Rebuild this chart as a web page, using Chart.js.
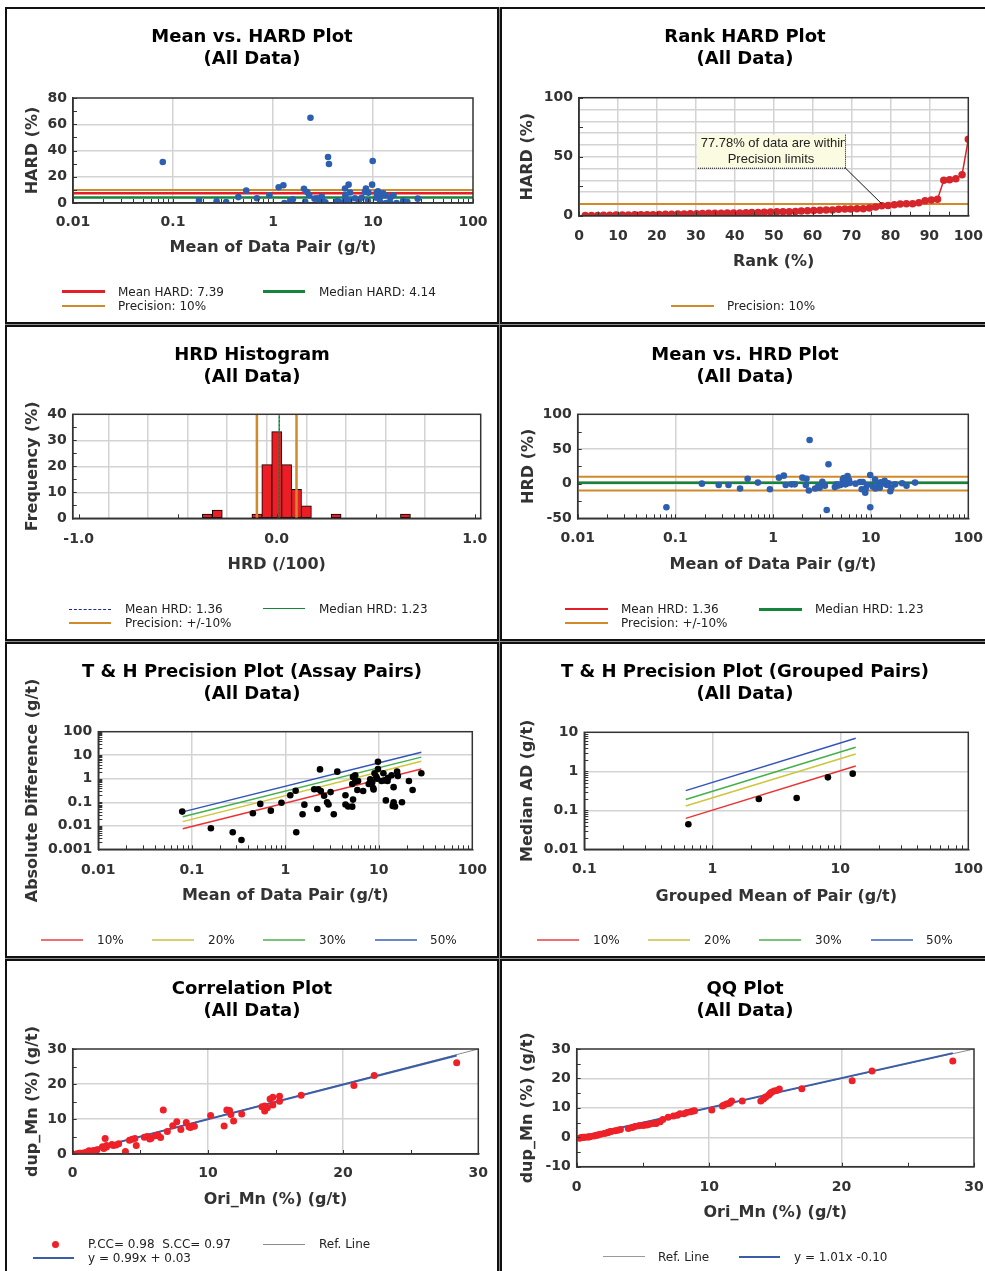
<!DOCTYPE html>
<html>
<head>
<meta charset="utf-8">
<script src="https://cdn.jsdelivr.net/npm/chart.js@4.4.1/dist/chart.umd.min.js"></script>
<style>
  body { margin: 0; background: #fff; width: 985px; height: 1271px; overflow: hidden; position: relative; font-family: 'DejaVu Sans', sans-serif; }
  #grid { position: absolute; left: 5px; top: 7px; width: 990px; height: 1270px; background: #8c8c8c; }
  .cell { position: absolute; background: #fff; border: 2px solid #111; box-sizing: border-box; overflow: hidden; }
  .cell canvas { position: absolute; left: 0; top: 0; }
  .lg { position: absolute; height: 0; }
  .lt { position: absolute; font-size: 12px; line-height: 14px; color: #222; white-space: pre; }
  .dot { position: absolute; border-radius: 50%; }
</style>
</head>
<body>
<div id="grid"></div>
<script>
// Mean vs. HARD
const hardMeanX = [0.079,0.182,0.273,0.34,0.45,0.54,0.69,0.92,1.14,1.27, 1.3,1.49,1.58,2.04,2.1,2.2,2.3,2.37,2.6,2.77,
  2.88,3.07,3.16,3.34,3.55,3.63,4.3,4.4,4.5,4.7, 5.25,5.3,5.3,5.4,5.7,5.8,5.9,6.6,7.2,7.7,
  8.3,8.5,8.9,9.0,9.8,9.93,10.8,10.9,11.2,11.7, 11.8,12.5,12.6,13.3,13.5,14.5,14.8,15.0,16.0,17.2, 20.0,22.0,28.0];
const hardY = [31.2,2,1.3,0.8,4.5,9.4,3.6,5.9,12,13.5, 0,2,2.8,10.9,1,8.4,6,65,3.3,3.6,
  2.5,5,1.3,0.5,35,29.7,1,1.5,0.5,0.5, 11,6,3,0.5,14,2,8,3.6,1.8,4,
  8.4,11,1.5,7.9,14,32,4,7.9,9,4.8, 1,6,7.4,6,0,0.5,0.5,4.3,5.9,0, 1.5,1,3.3];
const meanHard = 7.39, medianHard = 4.14, precisionHard = 10;
const meanAxis = [0.01, 100];
const hardYTicks = [0, 20, 40, 60, 80];

// Rank HARD
const rankPct = [1.6,3.2,4.8,6.3,7.9,9.5,11.1,12.7,14.3,15.9, 17.5,19.0,20.6,22.2,23.8,25.4,27.0,28.6,30.2,31.7,
  33.3,34.9,36.5,38.1,39.7,41.3,42.9,44.4,46.0,47.6, 49.2,50.8,52.4,54.0,55.6,57.1,58.7,60.3,61.9,63.5,
  65.1,66.7,68.3,69.8,71.4,73.0,74.6,76.2,77.8,79.4, 81.0,82.5,84.1,85.7,87.3,88.9,90.5,92.1,93.7,95.2, 96.8,98.4,100.0];
const rankHard = [0.1,0.2,0.2,0.3,0.4,0.5,0.6,0.6,0.7,0.8, 0.9,0.9,1.0,1.2,1.3,1.4,1.5,1.6,1.7,1.8,
  2.0,2.0,2.1,2.2,2.2,2.3,2.5,2.7,2.8,3.0, 3.2,3.3,3.3,3.4,3.5,4.0,4.1,4.5,4.7,4.8,
  4.9,5.5,5.6,5.7,5.8,5.9,6.5,7.4,8.5,8.7, 9.3,9.9,10.1,10.2,11.0,12.7,13.3,14.0,30.0,30.5, 31.4,34.7,64.7];
const rankXTicks = [0, 10, 20, 30, 40, 50, 60, 70, 80, 90, 100];
const rankYTicks = [0, 50, 100];
const withinRank = 77.78;
const calloutText = ['77.78% of data are within', 'Precision limits'];

// HRD histogram
const hrdBins = [-0.35, -0.30, -0.10, -0.05, 0.0, 0.05, 0.10, 0.15, 0.30, 0.65];
const hrdFreq = [1.59, 3.17, 1.59, 20.63, 33.33, 20.63, 11.11, 4.76, 1.59, 1.59];
const histMean = 0.0136, histMedian = 0.0123, histPrec = 0.1;
const histXTicks = [-1, 0, 1];
const histYTicks = [0, 10, 20, 30, 40];

// Mean vs. HRD
const hrdMeanX = [0.081,0.187,0.278,0.35,0.46,0.55,0.70,0.93,1.15,1.29, 1.35,1.55,1.67,2.0,2.17,2.2,2.33,2.37,2.7,2.9,
  3.0,3.2,3.4,3.55,3.7,4.3,4.5,4.6,4.9,5.2, 5.2,5.3,5.5,5.6,5.8,6.0,6.1,7.0,7.8,8.1,
  8.3,8.8,8.9,9.2,9.9,9.9,10.5,11.1,11.2,12.0, 12.4,12.7,13.2,13.9,14.3,14.8,15.2,15.9,16.3,17.8, 21,23.3,28.5];
const hrdY = [-34,0,-2,-2,-7,7,1.5,-8,8.6,11.5, -2,-1,-1,8.6,-2,7,-10,63,-7,-4,
  -6,2.5,-3,-38,28,-5,-1,-3,-2,6, 3,8,-1,-0.5,11,5,1,0,2.4,-8,
  2.4,-13,-7,-2,12.5,-34,-4,6,-7,-3, -6,2,1,4,-1,-2,0.5,-11,-6,-1, 0.5,-3,1.5];
const meanHrd = 1.36, medianHrd = 1.23, precHrd = 10;
const hrdYTicks = [-50, 0, 50, 100];

// T & H assay pairs
const thMeanX = [0.079,0.16,0.274,0.34,0.45,0.54,0.70,0.91,1.13,1.29, 1.31,1.53,1.6,2.04,2.2,2.25,2.35,2.4,2.6,2.8,
  2.9,3.05,3.3,3.6,4.4,4.4,4.7,5.2,5.2,5.3, 5.3,5.6,5.6,5.9,6.0,6.8,7.8,8.1,8.5,8.7,
  8.8,9.0,9.4,9.6,9.8,9.8,10.7,11.2,11.5,11.9, 12.4,12.6,13.7,14.1,14.4,14.4,14.9,15.7,16.0,17.7, 21,23,28.5];
const thAbsDiff = [0.04,0.0078,0.0053,0.0025,0.034,0.085,0.044,0.095,0.2,0.31, 0.0053,0.031,0.079,0.36,0.052,0.36,2.5,0.3,0.19,0.1,
  0.08,0.27,0.031,2.0,0.2,0.08,0.066,0.065,0.6,0.13, 1.2,1.4,0.75,0.33,0.8,0.3,0.6,0.95,0.7,0.4,
  0.35,1.7,1.2,1.0,5.3,2.6,0.8,1.7,0.85,0.12, 0.8,1.1,1.4,0.07,0.1,0.44,0.066,2.0,1.3,0.1, 0.8,0.33,1.7];
const thLineX = [0.08, 28.5];
const th10 = [0.0075, 2.6], th20 = [0.015, 5.5], th30 = [0.024, 8.3], th50 = [0.039, 13.5];

// T & H grouped pairs
const grpMeanX = [0.65, 2.31, 4.56, 8.0, 12.5];
const grpMedAD = [0.044, 0.195, 0.207, 0.70, 0.87];
const grpLineX = [0.62, 13.2];
const grp10 = [0.062, 1.37], grp20 = [0.129, 2.78], grp30 = [0.19, 4.12], grp50 = [0.32, 7.0];

// Correlation
const corrOri = [0.2,0.3,0.4,0.5,0.6,0.8,1.0,1.2,1.3,1.5, 1.6,1.8,2.2,2.3,2.4,2.5,2.5,2.9,3.0,3.2,
  3.4,3.9,4.2,4.4,4.6,4.7,5.3,5.5,5.7,5.8, 6.1,6.3,6.5,6.7,7.0,7.4,7.7,8.0,8.4,8.6,
  8.7,8.9,9.0,10.2,11.2,11.4,11.6,11.7,11.9,12.5, 14.0,14.2,14.2,14.4,14.6,14.8,14.8,15.3,15.3,16.9, 20.8,22.3,28.4];
const corrDup = [-0.1,0.0,0.1,0.2,0.2,0.3,0.5,0.9,0.8,0.9, 0.9,1.2,2.1,1.6,4.4,2.4,2.0,2.7,2.4,2.6,
  2.9,0.7,3.9,4.2,4.4,2.4,4.8,5.0,4.3,4.5, 5.2,5.4,4.7,12.6,6.4,8.1,9.2,7.0,9.0,7.8,
  7.6,8.0,7.9,11.0,8.0,12.6,12.4,11.3,9.4,11.4, 13.5,13.7,12.3,13.2,15.7,16.2,14.0,16.5,15.1,16.8, 19.6,22.4,26.1];
const corrFitX = [0, 28.4], corrFitY = [0.03, 28.15];
const refX = [0, 30], refY = [0, 30];
const corrTicks = [0, 10, 20, 30];

// QQ
const qqOri = [0.2,0.3,0.4,0.5,0.6,0.8,0.9,1.0,1.3,1.5, 1.6,1.8,2.1,2.3,2.4,2.5,2.6,2.9,3.1,3.3,
  3.9,4.2,4.4,4.7,5.0,5.1,5.3,5.5,5.8,6.0, 6.3,6.5,6.9,7.3,7.6,7.8,8.1,8.3,8.6,8.8,
  8.9,10.2,11.0,11.1,11.3,11.5,11.6,11.7,12.5,13.9, 14.1,14.2,14.3,14.5,14.6,14.7,14.9,15.1,15.3,17.0, 20.8,22.3,28.4];
const qqDup = [-0.3,-0.2,-0.1,0.0,0.0,0.1,0.1,0.2,0.4,0.7, 0.8,1.0,1.3,1.5,1.7,1.9,2.0,2.2,2.4,2.6,
  3.0,3.3,3.7,3.9,4.0,4.2,4.2,4.4,4.7,4.7, 5.3,6.0,6.8,7.2,7.5,8.0,8.0,8.4,8.7,8.9,
  9.0,9.3,10.6,10.9,11.3,11.5,11.8,12.3,12.3,12.3, 13.0,13.5,13.8,14.4,14.9,15.3,15.7,15.9,16.4,16.5, 19.2,22.5,25.9];
const qqFitX = [0, 28.4], qqFitY = [-0.1, 28.6];
const qqYTicks = [-10, 0, 10, 20, 30];

// ---------- styling ----------
const FAM = "'DejaVu Sans', sans-serif";
const TITLE_FONT = { family: FAM, size: 18, weight: 'bold', lineHeight: '22px' };
const TICK_FONT = { family: FAM, size: 14, weight: 'bold' };
const AXIS_FONT = { family: FAM, size: 16, weight: 'bold' };
const GRID = '#d3d3d3', AXIS = '#333', TEXT = '#333';
const BLUE = '#2d5fb0', RED = '#e51f28', GREEN = '#15853c', ORANGE = '#d08a2a', NAVY = '#1c2a8c';
const RANK_RED = '#d6262c', HIST_RED = '#ee1c24', CORR_RED = '#ee2028', FIT_BLUE = '#3a5da8', REF_GRAY = '#8a8a8a';
const TH = ['#ea3434', '#cdc63a', '#44b048', '#3354b8'];
const TH_LG = ['#f07070', '#d8d070', '#78c478', '#6a88c8'];

const colX = [5, 500], colW = [494, 490];
const rowY = [7, 325, 642, 959], rowH = [317, 316, 316, 316];

function near(v, step) { const r = v / step; return Math.abs(r - Math.round(r)) < 1e-6; }
function isDecade(v) { const e = Math.log10(v); return Math.abs(e - Math.round(e)) < 1e-6; }
function decadeLabel(v) { const e = Math.round(Math.log10(v)); return e < 0 ? Math.pow(10, e).toFixed(-e) : String(Math.pow(10, e)); }
function intMantissa(v) { const e = Math.floor(Math.log10(v) + 1e-9); const m = v / Math.pow(10, e); return Math.abs(m - Math.round(m)) < 1e-6; }

function lin(min, max, step, labels, gridEvery, tickEvery, fmt) {
  return {
    type: 'linear', min, max, step,
    label: v => labels.some(t => Math.abs(t - v) < 1e-6) ? (fmt ? fmt(v) : String(Math.round(v))) : '',
    grid: v => near(v, gridEvery) && v - min > step * 0.5 && max - v > step * 0.5,
    tick: v => near(v, tickEvery)
  };
}
function logAx(min, max) {
  return {
    type: 'logarithmic', min, max,
    label: v => isDecade(v) ? decadeLabel(v) : '',
    grid: v => isDecade(v) && v > min * 1.001 && v < max * 0.999,
    tick: v => intMantissa(v)
  };
}

function buildX(g, ax, title) {
  return {
    type: ax.type, min: ax.min, max: ax.max, position: 'bottom', offset: false,
    afterFit: s => { s.height = g.H - g.B; s.paddingLeft = 0; s.paddingRight = 0; },
    grid: { color: c => (c.tick && ax.grid(c.tick.value)) ? GRID : 'rgba(0,0,0,0)', lineWidth: 1.5, drawTicks: false },
    border: { color: AXIS, width: 1.5 },
    ticks: { stepSize: ax.step, includeBounds: false, maxTicksLimit: 1000, autoSkip: false, maxRotation: 0, minRotation: 0,
      font: TICK_FONT, color: TEXT, padding: g.tickY - g.B - 8.4, callback: v => ax.label(v) },
    title: { display: true, text: title, font: AXIS_FONT, color: TEXT, padding: { top: 0, bottom: g.H - g.titleY - 9.6 } }
  };
}
function buildY(g, ax, title) {
  return {
    type: ax.type, min: ax.min, max: ax.max, position: 'left',
    afterFit: s => { s.width = g.L; s.paddingTop = 0; s.paddingBottom = 0; },
    grid: { color: c => (c.tick && ax.grid(c.tick.value)) ? GRID : 'rgba(0,0,0,0)', lineWidth: 1.5, drawTicks: false },
    border: { color: AXIS, width: 1.5 },
    ticks: { stepSize: ax.step, includeBounds: false, maxTicksLimit: 1000, autoSkip: false,
      font: TICK_FONT, color: TEXT, padding: 6, callback: v => ax.label(v) },
    title: { display: true, text: title, font: AXIS_FONT, color: TEXT, padding: { top: g.yt - 9.6, bottom: 0 } }
  };
}

// short inner tick marks + plot frame
function decor(xTest, yTest) {
  return {
    id: 'decor',
    afterDatasetsDraw(chart) {
      const { ctx, chartArea: a, scales } = chart;
      ctx.save();
      ctx.strokeStyle = AXIS; ctx.lineWidth = 1;
      scales.x.ticks.forEach(t => {
        if (!xTest(t.value)) return;
        const p = Math.round(scales.x.getPixelForValue(t.value)) + 0.5;
        ctx.beginPath(); ctx.moveTo(p, a.bottom); ctx.lineTo(p, a.bottom - 4); ctx.stroke();
      });
      scales.y.ticks.forEach(t => {
        if (!yTest(t.value)) return;
        const p = Math.round(scales.y.getPixelForValue(t.value)) + 0.5;
        ctx.beginPath(); ctx.moveTo(a.left, p); ctx.lineTo(a.left + 4, p); ctx.stroke();
      });
      ctx.lineWidth = 1.5;
      ctx.strokeRect(a.left, a.top, a.width, a.height);
      ctx.restore();
    }
  };
}

const callout = {
  id: 'callout',
  afterDatasetsDraw(chart) {
    const { ctx, chartArea: a, scales: { x, y } } = chart;
    const px = x.getPixelForValue(withinRank), py = y.getPixelForValue(precisionHard);
    const bx = a.left + 118, by = a.top + 37, bw = 148, bh = 33;
    ctx.save();
    ctx.strokeStyle = '#111'; ctx.lineWidth = 1;
    ctx.beginPath(); ctx.moveTo(bx + bw, by + bh); ctx.lineTo(px, py); ctx.stroke();
    ctx.fillStyle = '#fbfbe2'; ctx.fillRect(bx, by, bw, bh);
    ctx.setLineDash([1, 1]);
    ctx.beginPath(); ctx.moveTo(bx + bw + 0.5, by); ctx.lineTo(bx + bw + 0.5, by + bh + 0.5); ctx.lineTo(bx, by + bh + 0.5); ctx.stroke();
    ctx.beginPath(); ctx.rect(bx, by, bw, bh); ctx.clip();
    ctx.fillStyle = '#222'; ctx.font = "13px 'Liberation Sans', Arial, sans-serif";
    ctx.textAlign = 'center'; ctx.textBaseline = 'middle';
    ctx.fillText(calloutText[0], bx + bw / 2 + 3, by + 8.5);
    ctx.fillText(calloutText[1], bx + bw / 2, by + 24.5);
    ctx.restore();
  }
};

function pts(xs, ys, color, r) {
  return { type: 'scatter', data: xs.map((x, i) => ({ x, y: ys[i] })), backgroundColor: color, borderWidth: 0,
    pointRadius: r, xAxisID: 'x', yAxisID: 'y' };
}
function seg(xs, ys, color, w, dash) {
  return { type: 'line', data: xs.map((x, i) => ({ x, y: ys[i] })), borderColor: color, borderWidth: w,
    borderDash: dash || [], pointRadius: 0, fill: false, tension: 0, xAxisID: 'x', yAxisID: 'y' };
}

function makeCanvas(col, row) {
  const cell = document.createElement('div');
  cell.className = 'cell';
  cell.style.left = colX[col] + 'px'; cell.style.top = rowY[row] + 'px';
  cell.style.width = colW[col] + 'px'; cell.style.height = rowH[row] + 'px';
  const cv = document.createElement('canvas');
  cv.width = colW[col] - 4; cv.height = rowH[row] - 4;
  cell.appendChild(cv);
  document.body.appendChild(cell);
  return cv;
}

function panel(col, row, g, title, xAx, xTitle, yAx, yTitle, datasets, extra) {
  const cv = makeCanvas(col, row);
  g.W = cv.width; g.H = cv.height;
  return new Chart(cv, {
    type: 'scatter',
    data: { datasets },
    options: {
      responsive: false, animation: false, events: [],
      layout: { padding: 0 },
      plugins: {
        legend: { display: false }, tooltip: { enabled: false },
        title: { display: true, text: [title, '(All Data)'], color: '#000', font: TITLE_FONT,
          padding: { top: 17, bottom: g.T - 17 - 44 } }
      },
      scales: {
        x: buildX(g, xAx, xTitle),
        y: buildY(g, yAx, yTitle),
        yR: { type: 'linear', position: 'right', afterFit: s => { s.width = g.W - g.R; },
          grid: { display: false, drawTicks: false }, border: { display: false }, ticks: { display: false } }
      }
    },
    plugins: [decor(xAx.tick, yAx.tick)].concat(extra || [])
  });
}

// ---------- panels ----------
panel(0, 0, { L: 66, R: 466, T: 89, B: 194, tickY: 213, titleY: 239, yt: 26 },
  'Mean vs. HARD Plot', logAx(0.01, 100), 'Mean of Data Pair (g/t)',
  lin(0, 80, 10, hardYTicks, 20, 10), 'HARD (%)',
  [pts(hardMeanX, hardY, BLUE, 3.3),
   seg(meanAxis, [medianHard, medianHard], GREEN, 2.5),
   seg(meanAxis, [meanHard, meanHard], RED, 2.5),
   seg(meanAxis, [precisionHard, precisionHard], ORANGE, 2)]);

panel(1, 0, { L: 77, R: 466.3, T: 88.7, B: 206.7, tickY: 227, titleY: 253, yt: 26 },
  'Rank HARD Plot', lin(0, 100, 5, rankXTicks, 10, 5), 'Rank (%)',
  lin(0, 100, 5, rankYTicks, 10, 25), 'HARD (%)',
  [Object.assign(pts(rankPct, rankHard, RANK_RED, 3), { showLine: true, borderColor: RANK_RED, borderWidth: 1.5 }),
   seg([0, 100], [precisionHard, precisionHard], ORANGE, 2)],
  [callout]);

panel(0, 1, { L: 65.7, R: 473.7, T: 87.3, B: 191.3, tickY: 212, titleY: 238, yt: 26 },
  'HRD Histogram', lin(-1.03, 1.03, 0.1, histXTicks, 0.2, 0.5, v => v.toFixed(1)), 'HRD (/100)',
  lin(0, 40, 5, histYTicks, 10, 5), 'Frequency (%)',
  [seg([histMedian, histMedian], [0, 40], GREEN, 1.2),
   seg([histMean, histMean], [0, 40], NAVY, 1, [2, 2]),
   seg([-histPrec, -histPrec], [0, 40], ORANGE, 2.5),
   seg([histPrec, histPrec], [0, 40], ORANGE, 2.5),
   { type: 'bar', data: hrdBins.map((x, i) => ({ x, y: hrdFreq[i] })), backgroundColor: HIST_RED, borderColor: '#000',
     borderWidth: 1, borderSkipped: false, barThickness: 10, xAxisID: 'x', yAxisID: 'y' }]);

panel(1, 1, { L: 75.7, R: 466.3, T: 87.3, B: 191.3, tickY: 211, titleY: 238, yt: 27 },
  'Mean vs. HRD Plot', logAx(0.01, 100), 'Mean of Data Pair (g/t)',
  lin(-50, 100, 25, hrdYTicks, 50, 25), 'HRD (%)',
  [pts(hrdMeanX, hrdY, BLUE, 3.3),
   seg(meanAxis, [medianHrd, medianHrd], GREEN, 2.5),
   seg(meanAxis, [meanHrd, meanHrd], RED, 2),
   seg(meanAxis, [precHrd, precHrd], ORANGE, 2),
   seg(meanAxis, [-precHrd, -precHrd], ORANGE, 2)]);

panel(0, 2, { L: 91.3, R: 465.3, T: 87.7, B: 205.3, tickY: 226, titleY: 252, yt: 26 },
  'T & H Precision Plot (Assay Pairs)', logAx(0.01, 100), 'Mean of Data Pair (g/t)',
  logAx(0.001, 100), 'Absolute Difference (g/t)',
  [pts(thMeanX, thAbsDiff, '#000', 3.3),
   seg(thLineX, th10, TH[0], 1.5), seg(thLineX, th20, TH[1], 1.5),
   seg(thLineX, th30, TH[2], 1.5), seg(thLineX, th50, TH[3], 1.5)]);

panel(1, 2, { L: 82.3, R: 466.3, T: 88.3, B: 205.3, tickY: 225.7, titleY: 253, yt: 26 },
  'T & H Precision Plot (Grouped Pairs)', logAx(0.1, 100), 'Grouped Mean of Pair (g/t)',
  logAx(0.01, 10), 'Median AD (g/t)',
  [pts(grpMeanX, grpMedAD, '#000', 3.3),
   seg(grpLineX, grp10, TH[0], 1.5), seg(grpLineX, grp20, TH[1], 1.5),
   seg(grpLineX, grp30, TH[2], 1.5), seg(grpLineX, grp50, TH[3], 1.5)]);

panel(0, 3, { L: 65.7, R: 471.3, T: 88, B: 193, tickY: 212, titleY: 239, yt: 26 },
  'Correlation Plot', lin(0, 30, 5, corrTicks, 10, 5), 'Ori_Mn (%) (g/t)',
  lin(0, 30, 5, corrTicks, 10, 5), 'dup_Mn (%) (g/t)',
  [pts(corrOri, corrDup, CORR_RED, 3.5),
   seg(corrFitX, corrFitY, FIT_BLUE, 2),
   seg(refX, refY, REF_GRAY, 1)]);

panel(1, 3, { L: 74.7, R: 472, T: 88, B: 205.7, tickY: 226, titleY: 252, yt: 26 },
  'QQ Plot', lin(0, 30, 5, corrTicks, 10, 5), 'Ori_Mn (%) (g/t)',
  lin(-10, 30, 5, qqYTicks, 10, 5), 'dup_Mn (%) (g/t)',
  [pts(qqOri, qqDup, CORR_RED, 3.5),
   seg(qqFitX, qqFitY, FIT_BLUE, 2),
   seg(refX, refY, REF_GRAY, 1)]);

// ---------- legends ----------
function lgLine(x1, x2, y, color, w, style) {
  const d = document.createElement('div'); d.className = 'lg';
  d.style.left = x1 + 'px'; d.style.top = (y - w / 2) + 'px'; d.style.width = (x2 - x1) + 'px';
  d.style.borderTop = w + 'px ' + (style || 'solid') + ' ' + color;
  document.body.appendChild(d);
}
function lgText(x, y, text) {
  const s = document.createElement('div'); s.className = 'lt';
  s.style.left = x + 'px'; s.style.top = (y - 7) + 'px'; s.textContent = text;
  document.body.appendChild(s);
}
function lgDot(x, y, r, color) {
  const d = document.createElement('div'); d.className = 'dot';
  d.style.left = (x - r) + 'px'; d.style.top = (y - r) + 'px';
  d.style.width = d.style.height = (2 * r) + 'px'; d.style.background = color;
  document.body.appendChild(d);
}

lgLine(62, 105, 291.5, RED, 3); lgText(118, 291.5, 'Mean HARD: 7.39');
lgLine(263, 305, 291.5, GREEN, 3); lgText(319, 291.5, 'Median HARD: 4.14');
lgLine(62, 105, 305.5, ORANGE, 2); lgText(118, 305.5, 'Precision: 10%');

lgLine(671, 714, 306, ORANGE, 2); lgText(727, 306, 'Precision: 10%');

lgLine(69, 111, 609, NAVY, 1, 'dashed'); lgText(125, 609, 'Mean HRD: 1.36');
lgLine(263, 305, 609, GREEN, 1.5); lgText(319, 609, 'Median HRD: 1.23');
lgLine(69, 111, 623, ORANGE, 2); lgText(125, 623, 'Precision: +/-10%');

lgLine(565, 608, 609, RED, 2); lgText(621, 609, 'Mean HRD: 1.36');
lgLine(759, 802, 609, GREEN, 3); lgText(815, 609, 'Median HRD: 1.23');
lgLine(565, 608, 623, ORANGE, 2); lgText(621, 623, 'Precision: +/-10%');

[[41, 97], [152, 208], [263, 319], [375, 430]].forEach((p, i) => {
  lgLine(p[0], p[0] + 42, 940, TH_LG[i], 2); lgText(p[1], 940, ['10%', '20%', '30%', '50%'][i]);
});
[[537, 593], [648, 704], [759, 815], [871, 926]].forEach((p, i) => {
  lgLine(p[0], p[0] + 42, 940, TH_LG[i], 2); lgText(p[1], 940, ['10%', '20%', '30%', '50%'][i]);
});

lgDot(55, 1244, 3.5, CORR_RED); lgText(88, 1244, 'P.CC= 0.98  S.CC= 0.97');
lgLine(263, 305, 1244, REF_GRAY, 1); lgText(319, 1244, 'Ref. Line');
lgLine(33, 74, 1258, FIT_BLUE, 2); lgText(88, 1258, 'y = 0.99x + 0.03');

lgLine(603, 645, 1257, '#999', 1.5); lgText(658, 1257, 'Ref. Line');
lgLine(739, 780, 1257, FIT_BLUE, 2); lgText(794, 1257, 'y = 1.01x -0.10');
</script>
</body>
</html>
